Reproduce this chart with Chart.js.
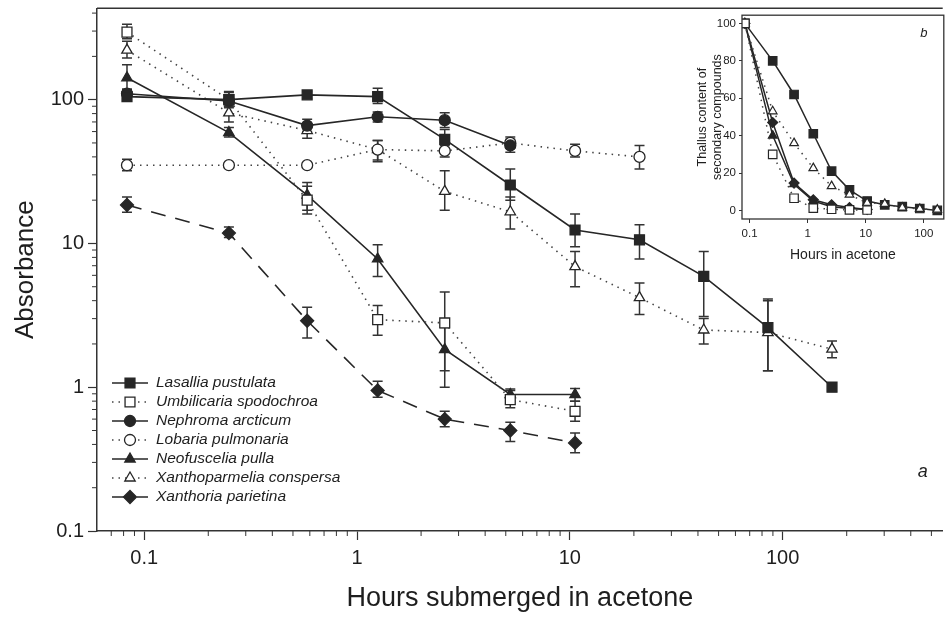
<!DOCTYPE html>
<html>
<head>
<meta charset="utf-8">
<script src="https://cdn.jsdelivr.net/npm/chart.js@4"></script>
<style>
  html, body { margin: 0; padding: 0; background: #fff; }
  #wrap { position: relative; width: 951px; height: 617px; }
  #main { position: absolute; left: 0; top: 0; }
  #inset { position: absolute; left: 690px; top: 8px; }
</style>
</head>
<body>
<div id="wrap">
  <canvas id="main" width="951" height="617"></canvas>
  <canvas id="inset" width="261" height="262"></canvas>
</div>
<script>
// sampling times (hours) - 5, 15, 35, 75, 155 ... minutes
const hours = [0.083, 0.25, 0.583, 1.25, 2.583, 5.25, 10.58, 21.25, 42.58, 85.25, 170.58];

const speciesNames = [
  "Lasallia pustulata", "Umbilicaria spodochroa", "Nephroma arcticum",
  "Lobaria pulmonaria", "Neofuscelia pulla", "Xanthoparmelia conspersa", "Xanthoria parietina"
];

// absorbance (panel a)
const lasallia = [105, 100, 108, 105, 53, 25.5, 12.4, 10.6, 5.9, 2.6, 1.0];
const umbilicaria = [295, 100, 20, 2.95, 2.8, 0.82, 0.68];
const nephroma = [110, 98, 66, 76, 72, 48];
const lobaria = [35, 35, 35, 45, 44, 50, 44, 40];
const neofuscelia = [142, 59, 21.7, 7.8, 1.83, 0.89, 0.89];
const xanthoparmelia = [221, 81, 61, 45, 23, 16.6, 6.9, 4.2, 2.5, 2.4, 1.84];
const xanthoria = [18.5, 11.8, 2.9, 0.95, 0.6, 0.5, 0.41];

// error bars [low, high]
const lasalliaErr = [[98,113],[88,114],[102,114],[94,120],[46,62],[20,33],[9.5,16],[7.8,13.5],[3.1,8.8],[1.3,4.1],null];
const umbilicariaErr = [[265,335],[90,112],[16,25],[2.3,3.7],[1.3,4.6],[0.72,0.95],[0.58,0.8]];
const nephromaErr = [[102,118],[90,108],[60,73],[70,82],[64,81],[43,53]];
const lobariaErr = [[32,38.5],null,null,[38,52],[40,48],[46,55],[40,49],[33,48]];
const neofuscaliaErr = [[118,175],[55,64],[17,26.5],[5.9,9.8],[1.0,2.6],[0.8,0.97],[0.8,0.98]];
const xanthoparmeliaErr = [[195,255],[70,95],[54,68],[37,52],[17,32],[12.6,21],[5,8.8],[3.2,5.3],[2.0,3.0],[1.3,4.0],[1.6,2.1]];
const xanthoriaErr = [[16.5,21],[11,13],[2.2,3.6],[0.85,1.1],[0.53,0.68],[0.42,0.57],[0.35,0.48]];

// thallus content of secondary compounds, % (panel b)
const insetLasallia = [100, 80, 62, 41, 21, 11, 5, 3, 2, 1, 0];
const insetUmbilicaria = [100, 30, 6.5, 1.2, 0.6, 0.3, 0.2];
const insetNeofuscelia = [100, 40, 14, 5, 2, 1, 0.5];
const insetXanthoparmelia = [100, 53, 36, 22.6, 13, 8.4, 4, 3.5, 1.5, 0.8, 0.4];
const insetXanthoria = [100, 47, 14.6, 5.7, 3, 1.5, 0.5];

const mainXTicks = [0.1, 1, 10, 100];
const mainYTicks = [0.1, 1, 10, 100];
const insetYTicks = [0, 20, 40, 60, 80, 100];

Chart.defaults.font.family = "'Liberation Sans', Arial, sans-serif";
Chart.defaults.color = "#1e1e1e";

const INK = "#262626";
const SOLID = [];
const DOTS = [1.5, 5];
const DASH = [15, 10];

function pts(vals) {
  return vals.map((v, i) => ({ x: hours[i], y: v }));
}

function series(label, vals, errs, style, filled, dash, radius) {
  return {
    label: label,
    data: pts(vals),
    errors: errs,
    borderColor: dash === DOTS ? "#444" : INK,
    borderWidth: 1.6,
    borderDash: dash,
    pointStyle: style,
    pointRadius: radius,
    pointBorderWidth: 1.3,
    pointBorderColor: INK,
    pointBackgroundColor: filled ? INK : "#fff",
    tension: 0,
    fill: false
  };
}

function isPow10(v) {
  const l = Math.log10(v);
  return Math.abs(l - Math.round(l)) < 1e-9;
}

// no automatic edge padding from tick labels
function noPad(s) {
  s.paddingTop = 0; s.paddingBottom = 0; s.paddingLeft = 0; s.paddingRight = 0;
}

const errorBars = {
  id: "errorBars",
  beforeDatasetsDraw(chart) {
    const ctx = chart.ctx;
    const ys = chart.scales.y;
    ctx.save();
    ctx.strokeStyle = "#333";
    ctx.lineWidth = 1.5;
    chart.data.datasets.forEach((ds, di) => {
      if (!ds.errors) return;
      const meta = chart.getDatasetMeta(di);
      meta.data.forEach((p, i) => {
        const e = ds.errors[i];
        if (!e) return;
        const y1 = ys.getPixelForValue(e[0]);
        const y2 = ys.getPixelForValue(e[1]);
        ctx.beginPath();
        ctx.moveTo(p.x, y1); ctx.lineTo(p.x, y2);
        ctx.moveTo(p.x - 5, y1); ctx.lineTo(p.x + 5, y1);
        ctx.moveTo(p.x - 5, y2); ctx.lineTo(p.x + 5, y2);
        ctx.stroke();
      });
    });
    ctx.restore();
  }
};

const mainDecor = {
  id: "mainDecor",
  afterDraw(chart) {
    const ctx = chart.ctx;
    const a = chart.chartArea;
    const xs = chart.scales.x, ys = chart.scales.y;
    ctx.save();
    ctx.strokeStyle = "#333";
    ctx.lineWidth = 1.5;
    // top frame line
    ctx.beginPath();
    ctx.moveTo(a.left, a.top); ctx.lineTo(a.right, a.top);
    ctx.stroke();
    // minor ticks
    ctx.lineWidth = 1;
    ctx.beginPath();
    for (let e = -2; e <= 3; e++) {
      for (let k = 2; k <= 9; k++) {
        const v = k * Math.pow(10, e);
        if (v > xs.min && v < xs.max) {
          const px = xs.getPixelForValue(v);
          ctx.moveTo(px, a.bottom); ctx.lineTo(px, a.bottom + 5);
        }
        if (v > ys.min && v < ys.max) {
          const py = ys.getPixelForValue(v);
          ctx.moveTo(a.left, py); ctx.lineTo(a.left - 5, py);
        }
      }
    }
    ctx.stroke();

    // legend
    const lx = a.left + 15, ly = 383, gap = 19;
    chart.data.datasets.forEach((ds, i) => {
      const y = ly + i * gap;
      ctx.save();
      ctx.strokeStyle = ds.borderColor;
      ctx.lineWidth = ds.borderWidth;
      ctx.setLineDash(ds.borderDash);
      ctx.beginPath();
      ctx.moveTo(lx, y); ctx.lineTo(lx + 36, y);
      ctx.stroke();
      ctx.setLineDash([]);
      ctx.fillStyle = ds.pointBackgroundColor;
      ctx.strokeStyle = ds.pointBorderColor;
      ctx.lineWidth = ds.pointBorderWidth;
      Chart.helpers.drawPoint(ctx, { pointStyle: ds.pointStyle, radius: ds.pointRadius, borderWidth: ds.pointBorderWidth, rotation: 0 }, lx + 18, y);
      ctx.restore();
      ctx.fillStyle = "#1e1e1e";
      ctx.font = "italic 15.5px 'Liberation Sans', Arial, sans-serif";
      ctx.textBaseline = "middle";
      ctx.fillText(ds.label, lx + 44, y);
    });

    ctx.font = "italic 18px 'Liberation Sans', Arial, sans-serif";
    ctx.textAlign = "center";
    ctx.textBaseline = "middle";
    ctx.fillStyle = "#1e1e1e";
    ctx.fillText("a", a.right - 20, 472);
    ctx.restore();
  }
};

new Chart(document.getElementById("main"), {
  type: "line",
  data: {
    datasets: [
      series(speciesNames[0], lasallia, lasalliaErr, "rect", true, SOLID, 7),
      series(speciesNames[1], umbilicaria, umbilicariaErr, "rect", false, DOTS, 7),
      series(speciesNames[2], nephroma, nephromaErr, "circle", true, SOLID, 5.5),
      series(speciesNames[3], lobaria, lobariaErr, "circle", false, DOTS, 5.5),
      series(speciesNames[4], neofuscelia, neofuscaliaErr, "triangle", true, SOLID, 6),
      series(speciesNames[5], xanthoparmelia, xanthoparmeliaErr, "triangle", false, DOTS, 6),
      series(speciesNames[6], xanthoria, xanthoriaErr, "rectRot", true, DASH, 6.5)
    ]
  },
  options: {
    responsive: false,
    animation: false,
    layout: { padding: { top: 5, right: 0, left: 0, bottom: 0 } },
    plugins: { legend: { display: false }, tooltip: { enabled: false } },
    scales: {
      x: {
        type: "logarithmic",
        min: 0.06,
        max: 565,
        afterBuildTicks: (s) => { s.ticks = mainXTicks.map(v => ({ value: v })); },
        afterFit: (s) => { s.height = 86; noPad(s); },
        ticks: {
          autoSkip: false, maxRotation: 0, padding: 6,
          font: { size: 20 },
          callback: (v) => isPow10(v) ? String(v) : ""
        },
        grid: { display: true, drawOnChartArea: false, drawTicks: true, tickLength: 9, tickColor: "#333", tickWidth: 1.2 },
        border: { display: true, color: "#333", width: 1.5 },
        title: { display: true, text: "Hours submerged in acetone", font: { size: 27 }, padding: { top: 0, bottom: 2 } }
      },
      y: {
        type: "logarithmic",
        min: 0.1,
        max: 432,
        afterBuildTicks: (s) => { s.ticks = mainYTicks.map(v => ({ value: v })); },
        afterFit: (s) => { s.width = 97; noPad(s); },
        ticks: {
          autoSkip: false, padding: 4,
          font: { size: 20 },
          callback: (v) => isPow10(v) ? String(v) : ""
        },
        grid: { display: true, drawOnChartArea: false, drawTicks: true, tickLength: 9, tickColor: "#333", tickWidth: 1.2 },
        border: { display: true, color: "#333", width: 1.5 },
        title: { display: true, text: "Absorbance", font: { size: 26 }, padding: { top: 10 } }
      }
    }
  },
  plugins: [errorBars, mainDecor]
});

// ---- inset (b) ----
function insetSeries(vals, style, filled, dash, radius) {
  return {
    data: pts(vals),
    borderColor: dash === DOTS ? "#444" : INK,
    borderWidth: 1.5,
    borderDash: dash,
    pointStyle: style,
    pointRadius: radius,
    pointBorderWidth: 1.2,
    pointBorderColor: INK,
    pointBackgroundColor: filled ? INK : "#fff",
    tension: 0
  };
}

const insetDecor = {
  id: "insetDecor",
  beforeDatasetsDraw(chart) {
    const ctx = chart.ctx, a = chart.chartArea;
    ctx.save();
    ctx.fillStyle = "#fff";
    ctx.fillRect(a.left, a.top, a.right - a.left, a.bottom - a.top);
    ctx.restore();
  },
  afterDraw(chart) {
    const ctx = chart.ctx, a = chart.chartArea;
    ctx.save();
    ctx.strokeStyle = "#333";
    ctx.lineWidth = 1.3;
    ctx.strokeRect(a.left, a.top, a.right - a.left, a.bottom - a.top);
    ctx.font = "italic 13px 'Liberation Sans', Arial, sans-serif";
    ctx.fillStyle = "#1e1e1e";
    ctx.textAlign = "center";
    ctx.textBaseline = "middle";
    ctx.fillText("b", a.right - 20, a.top + 18);
    ctx.restore();
  }
};

new Chart(document.getElementById("inset"), {
  type: "line",
  data: {
    datasets: [
      insetSeries(insetUmbilicaria, "rect", false, DOTS, 6),
      insetSeries(insetXanthoparmelia, "triangle", false, DOTS, 5),
      insetSeries(insetNeofuscelia, "triangle", true, SOLID, 5),
      insetSeries(insetXanthoria, "rectRot", true, SOLID, 5),
      insetSeries(insetLasallia, "rect", true, SOLID, 6)
    ]
  },
  options: {
    responsive: false,
    animation: false,
    layout: { padding: { top: 7, right: 2, left: 0, bottom: 0 } },
    plugins: { legend: { display: false }, tooltip: { enabled: false } },
    scales: {
      x: {
        type: "logarithmic",
        min: 0.074,
        max: 221,
        afterBuildTicks: (s) => { s.ticks = mainXTicks.map(v => ({ value: v })); },
        afterFit: (s) => { s.height = 51; noPad(s); },
        ticks: { autoSkip: false, maxRotation: 0, padding: 4, font: { size: 11.5 },
          callback: (v) => String(v) },
        grid: { display: true, drawOnChartArea: false, tickLength: 4, tickColor: "#333" },
        border: { display: false },
        title: { display: true, text: "Hours in acetone", font: { size: 14 }, padding: { top: 0, bottom: 6 } }
      },
      y: {
        min: -4.6,
        max: 104.4,
        afterBuildTicks: (s) => { s.ticks = insetYTicks.map(v => ({ value: v })); },
        afterFit: (s) => { s.width = 52; noPad(s); },
        ticks: { autoSkip: false, padding: 3, font: { size: 11.5 } },
        grid: { display: true, drawOnChartArea: false, tickLength: 3, tickColor: "#333" },
        border: { display: false },
        title: { display: true, text: ["Thallus content of", "secondary compounds"], font: { size: 12.5 }, padding: { top: 5 } }
      }
    }
  },
  plugins: [insetDecor]
});
</script>
</body>
</html>
